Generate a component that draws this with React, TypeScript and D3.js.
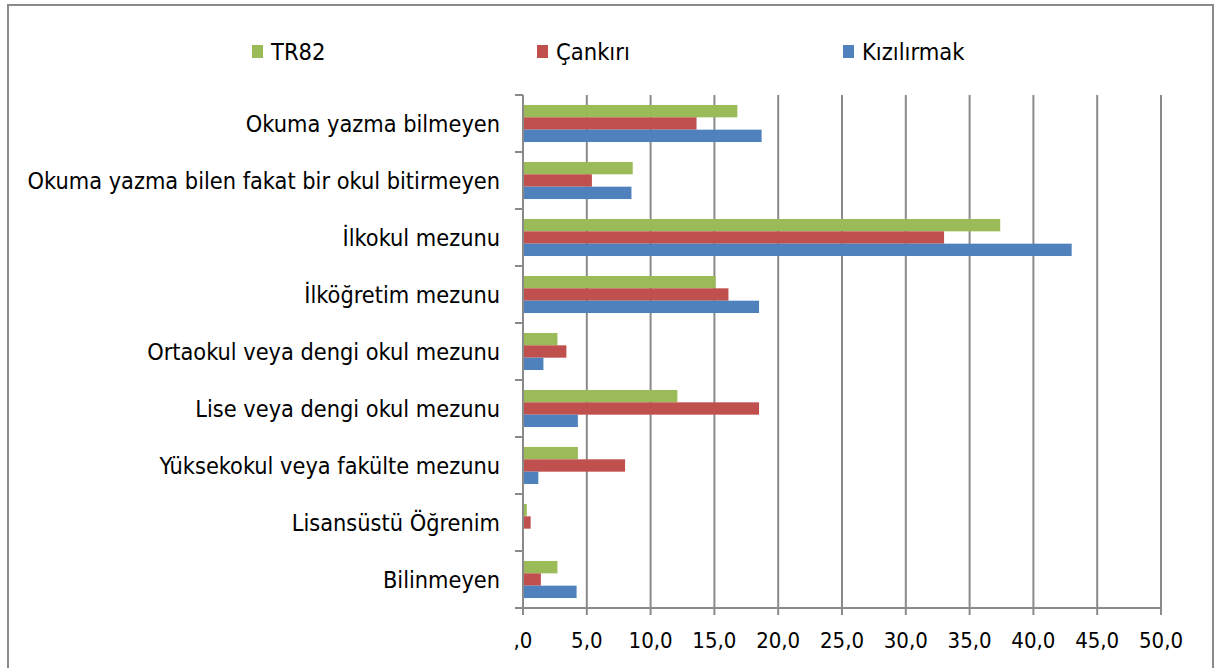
import * as d3 from 'd3';
import React, { useRef, useEffect } from 'react';

const categories = [
  'Okuma yazma bilmeyen',
  'Okuma yazma bilen fakat bir okul bitirmeyen',
  'İlkokul mezunu',
  'İlköğretim mezunu',
  'Ortaokul veya dengi okul mezunu',
  'Lise veya dengi okul mezunu',
  'Yüksekokul veya fakülte mezunu',
  'Lisansüstü Öğrenim',
  'Bilinmeyen',
];
const seriesNames = ['TR82', 'Çankırı', 'Kızılırmak'];
const tr82 = [16.8, 8.6, 37.4, 15.1, 2.7, 12.1, 4.3, 0.3, 2.7];
const cankiri = [13.6, 5.4, 33.0, 16.1, 3.4, 18.5, 8.0, 0.6, 1.4];
const kizilirmak = [18.7, 8.5, 43.0, 18.5, 1.6, 4.3, 1.2, 0.0, 4.2];
const xTicks = [0, 5, 10, 15, 20, 25, 30, 35, 40, 45, 50];
const colors = ['#9BBB59', '#C0504D', '#4F81BD'];

const FONT = '"DejaVu Sans Condensed", "DejaVu Sans", sans-serif';

function App() {
  const ref = useRef<SVGSVGElement>(null);

  useEffect(() => {
    const svg = d3.select(ref.current);
    svg.selectAll('*').remove();

    const x = d3.scaleLinear().domain([0, 50]).range([523, 1161]);
    const y = d3.scaleBand().domain(categories).range([95, 608])
      .paddingInner(0.35).paddingOuter(0.175);
    const inner = d3.scaleBand().domain(seriesNames).range([0, y.bandwidth()]);
    const values = [tr82, cankiri, kizilirmak];
    const grey = '#8a8a8a';

    // outer frame
    svg.append('rect')
      .attr('x', 8).attr('y', 5).attr('width', 1205).attr('height', 700)
      .attr('fill', 'white').attr('stroke', grey).attr('stroke-width', 2);

    // grid
    svg.append('g').selectAll('line').data(xTicks.slice(1)).enter().append('line')
      .attr('x1', d => x(d)).attr('x2', d => x(d))
      .attr('y1', 95).attr('y2', 608)
      .attr('stroke', grey).attr('stroke-width', 2);

    // bars
    seriesNames.forEach((s, si) => {
      svg.append('g').selectAll('rect').data(categories).enter().append('rect')
        .attr('x', x(0))
        .attr('y', c => (y(c) as number) + (inner(s) as number))
        .attr('width', (c, i) => x(values[si][i]) - x(0))
        .attr('height', inner.bandwidth())
        .attr('fill', colors[si]);
    });

    // y axis
    const yb = [95, ...categories.map(c => (y(c) as number) + y.bandwidth() + (y.step() - y.bandwidth()) / 2)];
    svg.append('line').attr('x1', x(0)).attr('x2', x(0)).attr('y1', 95).attr('y2', 608)
      .attr('stroke', grey).attr('stroke-width', 2);
    svg.append('g').selectAll('line').data(yb).enter().append('line')
      .attr('x1', x(0) - 8).attr('x2', x(0)).attr('y1', d => d).attr('y2', d => d)
      .attr('stroke', grey).attr('stroke-width', 2);

    // x axis
    svg.append('line').attr('x1', x(0) - 8).attr('x2', x(50)).attr('y1', 608).attr('y2', 608)
      .attr('stroke', grey).attr('stroke-width', 2);
    svg.append('g').selectAll('line').data(xTicks).enter().append('line')
      .attr('x1', d => x(d)).attr('x2', d => x(d)).attr('y1', 608).attr('y2', 615)
      .attr('stroke', grey).attr('stroke-width', 2);
    svg.append('g').selectAll('text').data(xTicks).enter().append('text')
      .attr('x', d => x(d)).attr('y', 648)
      .attr('text-anchor', 'middle')
      .style('font-family', FONT).style('font-size', '22px').attr('fill', '#000')
      .text(d => (d === 0 ? ',0' : d.toFixed(1).replace('.', ',')));

    // category labels
    svg.append('g').selectAll('text').data(categories).enter().append('text')
      .attr('x', 500).attr('y', c => (y(c) as number) + y.bandwidth() / 2 + 8)
      .attr('text-anchor', 'end')
      .style('font-family', FONT).style('font-size', '23.3px').attr('fill', '#000')
      .text(c => c);

    // legend
    const legendX = [252, 537, 843];
    const lg = svg.append('g').selectAll('g').data(seriesNames).enter().append('g')
      .attr('transform', (d, i) => `translate(${legendX[i]},0)`);
    lg.append('rect').attr('x', 0).attr('y', 45).attr('width', 11).attr('height', 13)
      .attr('fill', (d, i) => colors[i]);
    lg.append('text').attr('x', 19).attr('y', 60)
      .style('font-family', FONT).style('font-size', '23.5px').attr('fill', '#000')
      .text(d => d);
  }, []);

  return (
    <div className="chart">
      <svg ref={ref} width={1215} height={668}
        style={{ position: 'absolute', left: 0, top: 0, background: 'white' }} />
    </div>
  );
}

export default App;
